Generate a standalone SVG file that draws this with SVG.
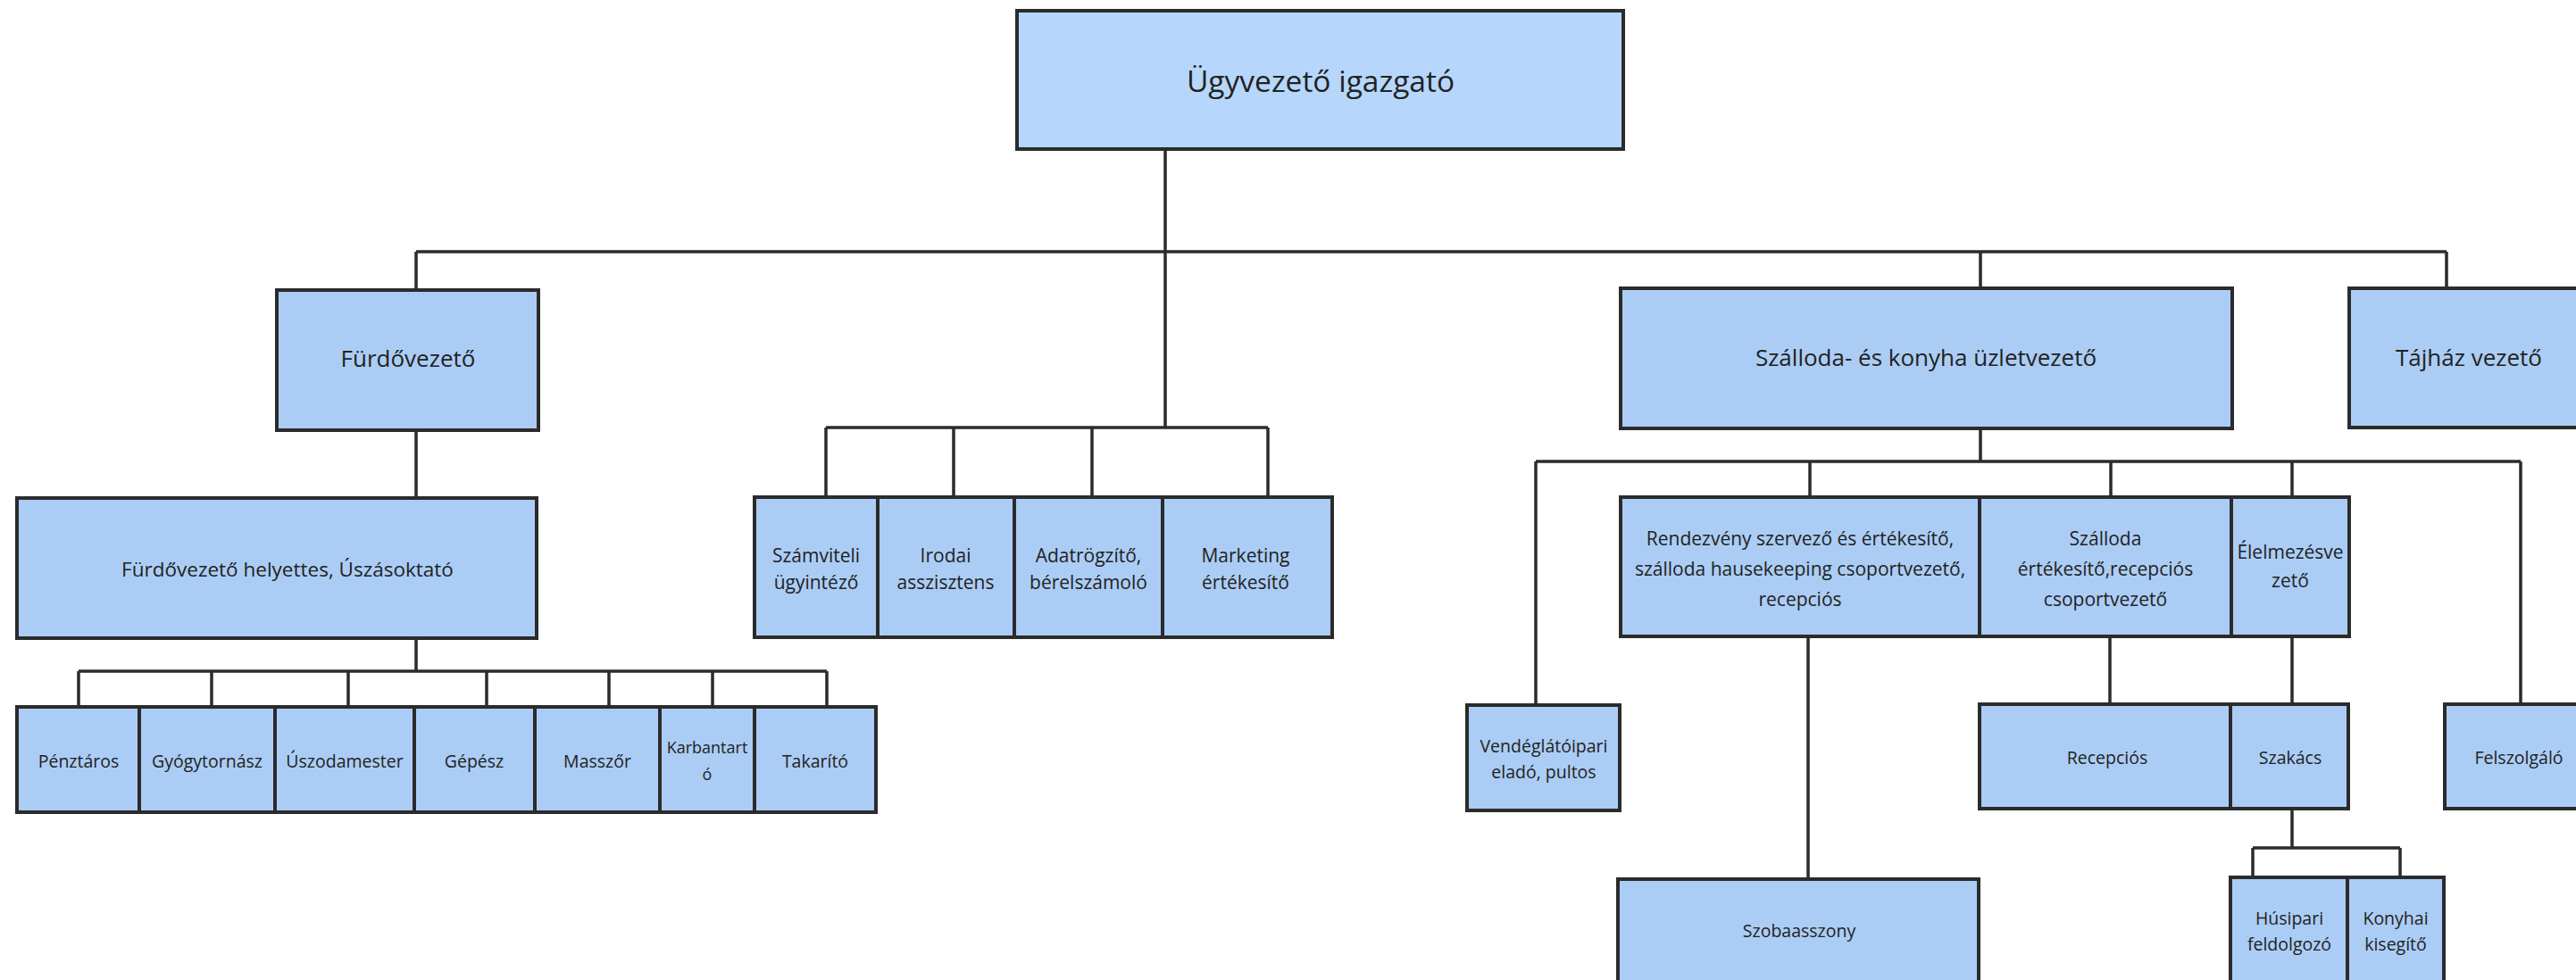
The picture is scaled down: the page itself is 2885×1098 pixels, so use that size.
<svg xmlns="http://www.w3.org/2000/svg" width="2885" height="1098" viewBox="0 0 2885 1098">
<style>
.box{fill:#abcdf5;stroke:#2b2b2b;stroke-width:4}
.top{fill:#b6d7fb}
.ln{fill:none;stroke:#2b2b2b;stroke-width:3.5}
text{font-family:"Open Sans","Noto Sans","Liberation Sans",sans-serif;fill:#222222;text-anchor:middle;dominant-baseline:central}
.t1{font-size:33.5px}
.t2{font-size:26px}
.t3{font-size:21px}
.t3b{font-size:22.5px}
.t4{font-size:19.5px}
.t4s{font-size:18px}
</style>
<rect width="2885" height="1098" fill="#ffffff"/>
<g id="connectors">
<path class="ln" d="M1305 167V479M466 282H2740M466 282V325M2218 282V323M2740 282V323"/>
<path class="ln" d="M925 479H1420M925 479V557M1068 479V557M1223 479V557M1420 479V557"/>
<path class="ln" d="M466 482V558M466 715V752M88 752H926M88 752V792M237 752V792M390 752V792M545 752V792M682 752V792M798 752V792M926 752V792"/>
<path class="ln" d="M2218 480V517M1720 517H2823M1720 517V790M2027 517V557M2364 517V557M2567 517V557M2823 517V789"/>
<path class="ln" d="M2025 712V985M2363 712V789M2567 712V789M2567 906V950M2523 950H2688M2523 950V983M2688 950V983"/>
</g>
<g id="n-ugyvezeto"><rect class="box top" x="1139" y="12" width="679" height="155"/><text class="t1" x="1479" y="90">Ügyvezető igazgató</text></g>
<g id="n-furdovezeto"><rect class="box" x="310" y="325" width="293" height="157"/><text class="t2" x="457" y="401">Fürdővezető</text></g>
<g id="n-szalloda-konyha"><rect class="box" x="1815" y="323" width="685" height="157"/><text class="t2" x="2157" y="400">Szálloda- és konyha üzletvezető</text></g>
<g id="n-tajhaz"><rect class="box" x="2631" y="323" width="280" height="156"/><text class="t2" x="2765" y="400">Tájház vezető</text></g>
<g id="n-helyettes"><rect class="box" x="19" y="558" width="582" height="157"/><text class="t3b" x="322" y="637">Fürdővezető helyettes, Úszásoktató</text></g>
<g id="n-szamviteli"><rect class="box" x="845" y="557" width="138" height="157"/><text class="t3" x="914"><tspan x="914" y="622">Számviteli</tspan><tspan x="914" y="652">ügyintéző</tspan></text></g>
<g id="n-irodai"><rect class="box" x="983" y="557" width="153" height="157"/><text class="t3" x="1059"><tspan x="1059" y="622">Irodai</tspan><tspan x="1059" y="652">asszisztens</tspan></text></g>
<g id="n-adatrogzito"><rect class="box" x="1136" y="557" width="166" height="157"/><text class="t3" x="1219"><tspan x="1219" y="622">Adatrögzítő,</tspan><tspan x="1219" y="652">bérelszámoló</tspan></text></g>
<g id="n-marketing"><rect class="box" x="1302" y="557" width="190" height="157"/><text class="t3" x="1395"><tspan x="1395" y="622">Marketing</tspan><tspan x="1395" y="652">értékesítő</tspan></text></g>
<g id="n-penztaros"><rect class="box" x="19" y="792" width="137" height="118"/><text class="t4" x="88" y="852">Pénztáros</text></g>
<g id="n-gyogytornasz"><rect class="box" x="156" y="792" width="152" height="118"/><text class="t4" x="232" y="852">Gyógytornász</text></g>
<g id="n-uszodamester"><rect class="box" x="308" y="792" width="156" height="118"/><text class="t4" x="386" y="852">Úszodamester</text></g>
<g id="n-gepesz"><rect class="box" x="464" y="792" width="135" height="118"/><text class="t4" x="531" y="852">Gépész</text></g>
<g id="n-masszor"><rect class="box" x="599" y="792" width="140" height="118"/><text class="t4" x="669" y="852">Masszőr</text></g>
<g id="n-karbantarto"><rect class="box" x="739" y="792" width="106" height="118"/><text class="t4s" x="792"><tspan x="792" y="837">Karbantart</tspan><tspan x="792" y="867">ó</tspan></text></g>
<g id="n-takarito"><rect class="box" x="845" y="792" width="136" height="118"/><text class="t4" x="913" y="852">Takarító</text></g>
<g id="n-rendezveny"><rect class="box" x="1815" y="557" width="402" height="156"/><text class="t3" x="2016"><tspan x="2016" y="603">Rendezvény szervező és értékesítő,</tspan><tspan x="2016" y="637">szálloda hausekeeping csoportvezető,</tspan><tspan x="2016" y="671">recepciós</tspan></text></g>
<g id="n-szalloda-ert"><rect class="box" x="2217" y="557" width="282" height="156"/><text class="t3" x="2358"><tspan x="2358" y="603">Szálloda</tspan><tspan x="2358" y="637">értékesítő,recepciós</tspan><tspan x="2358" y="671">csoportvezető</tspan></text></g>
<g id="n-elelmezes"><rect class="box" x="2499" y="557" width="132" height="156"/><text class="t3" x="2565"><tspan x="2565" y="618">Élelmezésve</tspan><tspan x="2565" y="650">zető</tspan></text></g>
<g id="n-vendeglato"><rect class="box" x="1643" y="790" width="171" height="118"/><text class="t4" x="1729"><tspan x="1729" y="835">Vendéglátóipari</tspan><tspan x="1729" y="864">eladó, pultos</tspan></text></g>
<g id="n-recepcios"><rect class="box" x="2217" y="789" width="281" height="117"/><text class="t4" x="2360" y="848">Recepciós</text></g>
<g id="n-szakacs"><rect class="box" x="2498" y="789" width="132" height="117"/><text class="t4" x="2565" y="848">Szakács</text></g>
<g id="n-felszolgalo"><rect class="box" x="2738" y="789" width="172" height="117"/><text class="t4" x="2821" y="848">Felszolgáló</text></g>
<g id="n-szobaasszony"><rect class="box" x="1812" y="985" width="404" height="130"/><text class="t4" x="2015" y="1042">Szobaasszony</text></g>
<g id="n-husipari"><rect class="box" x="2498" y="983" width="131" height="130"/><text class="t4" x="2564"><tspan x="2564" y="1028">Húsipari</tspan><tspan x="2564" y="1057">feldolgozó</tspan></text></g>
<g id="n-konyhai"><rect class="box" x="2629" y="983" width="108" height="130"/><text class="t4" x="2683"><tspan x="2683" y="1028">Konyhai</tspan><tspan x="2683" y="1057">kisegítő</tspan></text></g>
</svg>
